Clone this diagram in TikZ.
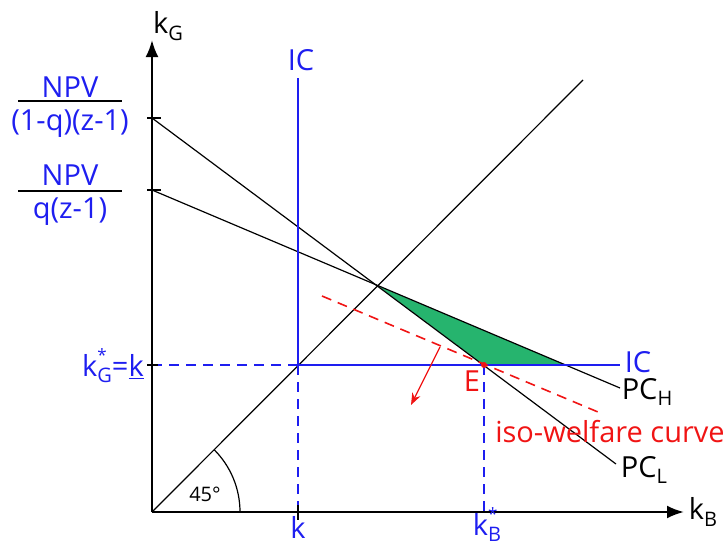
\documentclass[tikz,border=0pt]{standalone}
\usepackage{fontspec}
\setmainfont{Open Sans}
\usetikzlibrary{arrows.meta,calc}
\definecolor{icblue}{RGB}{30,30,240}
\definecolor{wred}{RGB}{240,20,20}
\definecolor{tgreen}{RGB}{38,180,110}
\newcommand{\lsub}[1]{\raisebox{-0.4ex}{\fontsize{20}{20}\selectfont #1}}
\newcommand{\lsubstar}[1]{\rlap{\raisebox{0.95ex}{\fontsize{17}{17}\selectfont *}}\raisebox{-0.4ex}{\fontsize{20}{20}\selectfont #1}}
\begin{document}
\begin{tikzpicture}[x=1pt,y=-1pt,
  lab/.style={font=\fontsize{29}{32}\selectfont, inner sep=0pt},
  thinln/.style={line width=1.2pt},
  axisln/.style={line width=2.4pt, -{Latex[length=17pt,width=13pt]}},
  tick/.style={line width=2.2pt},
  bdash/.style={icblue, line width=1.3pt, dash pattern=on 10pt off 7pt},
  rdash/.style={wred, line width=1.6pt, dash pattern=on 10pt off 7pt}]
\useasboundingbox (0,0) rectangle (725,546);
\coordinate (O) at (152,512);
\coordinate (Ytop) at (152,40);
\coordinate (Xend) at (684,512);
\coordinate (A) at (152,118);
\coordinate (B) at (152,190);
\coordinate (X) at (378,286);
\coordinate (E) at (484,365);
\coordinate (G) at (566,365);
\coordinate (K) at (298,365);
\coordinate (L45) at (583,80);
\coordinate (PCLend) at (616,464);
\coordinate (PCHend) at (620,388);
\coordinate (ICtop) at (298,78);
\coordinate (ICright) at (620,365);
\coordinate (Kaxis) at (298,512);
\coordinate (KBaxis) at (484,512);
\coordinate (Yk) at (152,365);
\coordinate (W1) at (322,296);
\coordinate (W2) at (598,412);
\coordinate (R1) at (440,347);
\coordinate (R2) at (411,405);
\coordinate (Arc0) at (240,512);

% green region
\fill[tgreen] (X) -- (E) -- (G) -- cycle;

% lines
\draw[thinln] (O) -- (L45);
\draw[thinln] (A) -- (PCLend);
\draw[thinln] (B) -- (PCHend);

% IC lines
\draw[icblue, thinln] (ICtop) -- (K) -- (ICright);
\draw[bdash] (Yk) -- (K);
\draw[bdash] (K) -- (Kaxis);
\draw[bdash] (E) -- (KBaxis);

% iso-welfare
\draw[rdash] (W1) -- (W2);
\draw[wred, line width=1.3pt, -{Stealth[length=12pt,width=9pt]}] (R1) -- (R2);
\fill[wred] (E) circle (3);

% angle arc
\draw[thinln] (Arc0) arc[start angle=0, end angle=-45, radius=88];

% axes
\draw[axisln] (O) -- (Ytop);
\draw[axisln] (O) -- (Xend);

% ticks
\draw[tick] (147,118) -- (161,118);
\draw[tick] (147,190) -- (161,190);
\draw[tick] (147,365) -- (158,365);
\draw[tick] (298,505) -- (298,520);

% labels
\node[lab] (kG) at (168,26) {k\lsub{G}};
\node[lab] (kB) at (703,512) {k\lsub{B}};
\node[lab, text=icblue] (IC1) at (301,60) {IC};
\node[lab, text=icblue] (IC2) at (638,362) {IC};
\node[lab] (PCH) at (647,392) {PC\lsub{H}};
\node[lab] (PCL) at (644,470) {PC\lsub{L}};
\node[lab, text=wred] (Elab) at (472,381) {E};
\node[lab, text=wred] (iso) at (610,432) {iso-welfare curve};
\node[lab, text=icblue] (klab) at (298,527) {k};
\node[lab, text=icblue] (kBs) at (487,525) {k\lsubstar{B}};
\node[lab, text=icblue] (kGs) at (113,366) {k\lsubstar{G}=\underline{k}};
\node[font=\fontsize{20}{22}\selectfont, inner sep=0pt] (ang) at (205,494) {45°};

\node[lab, text=icblue] (npv1) at (70,87) {NPV};
\node[lab, text=icblue] (den1) at (70,124) {(1-q)(z-1)};
\draw[line width=1.3pt] (18,101) -- (122,101);
\node[lab, text=icblue] (npv2) at (70,175) {NPV};
\node[lab, text=icblue] (den2) at (70,212) {q(z-1)};
\draw[line width=1.3pt] (18,191) -- (122,191);
\end{tikzpicture}
\end{document}
